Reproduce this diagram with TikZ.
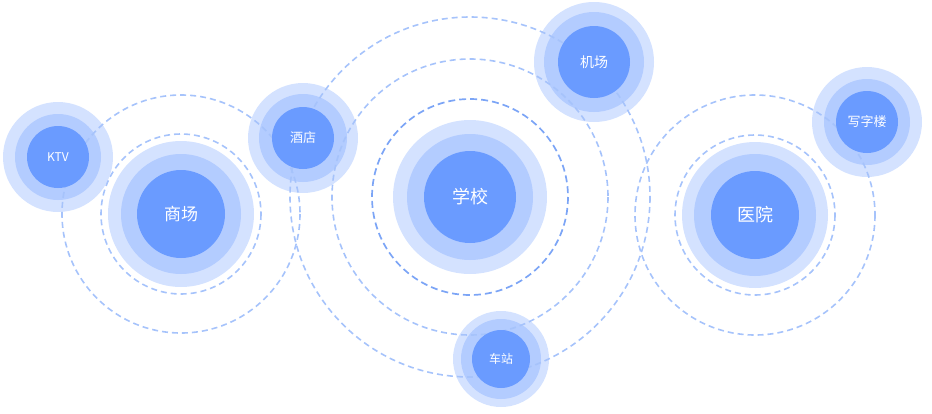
\documentclass[tikz,border=0pt]{standalone}
\usepackage{fontspec}
\newfontfamily\cjk{Noto Sans CJK SC}
\usetikzlibrary{backgrounds}
\definecolor{corecolor}{HTML}{6A9BFF}
\definecolor{midcolor}{HTML}{B3CCFF}
\definecolor{halocolor}{HTML}{D4E2FF}
\definecolor{orbitcolor}{HTML}{A6C3FB}
\definecolor{innerorbit}{HTML}{7CA5F6}
\tikzset{
	place/.style={
		circle,
		fill=corecolor,
		text=white,
		inner sep=0pt,
		font=\cjk
	},
	halo/.style={
		fill=halocolor
	},
	glow/.style={
		fill=midcolor
	},
	orbit/.style={
		draw=orbitcolor,
		line width=1.6pt,
		dash pattern=on 6pt off 4pt
	},
	nearorbit/.style={
		draw=innerorbit,
		line width=1.7pt,
		dash pattern=on 7pt off 4pt
	},
}

\begin{document}
\begin{tikzpicture}[x=1pt,y=-1pt]
\useasboundingbox (0,0) rectangle (932,413);
\node [place,minimum size=92pt,font=\cjk\fontsize{18}{18}\selectfont] (school) at (470,197) {学校};
\node [place,minimum size=88pt,font=\cjk\fontsize{17}{17}\selectfont] (mall) at (181,214) {商场};
\node [place,minimum size=88pt,font=\cjk\fontsize{18}{18}\selectfont] (hospital) at (755,215) {医院};
\node [place,minimum size=62pt,font=\cjk\fontsize{12}{12}\selectfont] (ktv) at (58,157) {KTV};
\node [place,minimum size=62pt,font=\cjk\fontsize{13}{13}\selectfont] (hotel) at (303,138) {酒店};
\node [place,minimum size=72pt,font=\cjk\fontsize{14}{14}\selectfont] (airport) at (594,62) {机场};
\node [place,minimum size=58pt,font=\cjk\fontsize{12}{12}\selectfont] (station) at (501,359) {车站};
\node [place,minimum size=62pt,font=\cjk\fontsize{13}{13}\selectfont] (office) at (867,122) {写字楼};

\begin{scope}[on background layer]
% rings
\fill[halo] (school) circle (77); \fill[glow] (school) circle (63);
\fill[halo] (mall) circle (73); \fill[glow] (mall) circle (60);
\fill[halo] (hospital) circle (73); \fill[glow] (hospital) circle (61);
\fill[halo] (ktv) circle (55); \fill[glow] (ktv) circle (43);
\fill[halo] (hotel) circle (55); \fill[glow] (hotel) circle (44);
\fill[halo] (airport) circle (60); \fill[glow] (airport) circle (50);
\fill[halo] (station) circle (48); \fill[glow] (station) circle (40);
\fill[halo] (office) circle (55); \fill[glow] (office) circle (43);
% orbits
\draw[nearorbit] (school) circle (98);
\draw[orbit] (school) circle (138);
\draw[orbit] (school) circle (180);
\draw[orbit] (mall) circle (80);
\draw[orbit] (mall) circle (119);
\draw[orbit] (hospital) circle (80);
\draw[orbit] (hospital) circle (120);
\end{scope}
\end{tikzpicture}
\end{document}
